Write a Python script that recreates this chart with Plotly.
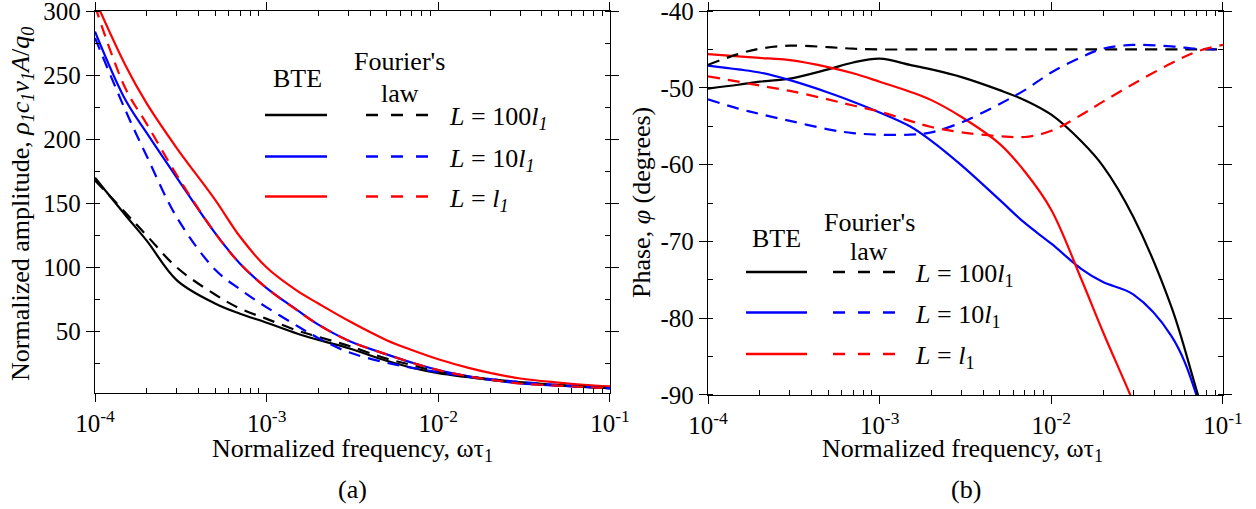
import plotly.graph_objects as go

# ---------------- data ----------------
freq = [1e-4, 1.5e-4, 2e-4, 3e-4, 5e-4, 7e-4, 1e-3, 1.5e-3, 2e-3, 3e-3,
        5e-3, 7e-3, 1e-2, 1.5e-2, 2e-2, 3e-2, 5e-2, 7e-2, 1e-1]

# (a) normalized amplitude
amp_bte_100 = [170, 141, 121, 90, 72, 64, 57, 48.6, 43.6, 37.1, 27.3, 21.9, 17.6, 14.5, 12.5, 10.3, 8.2, 7.0, 6.0]
amp_fou_100 = [168, 143, 125, 100, 79, 68, 60, 51, 46, 39, 29, 24, 18.5, 15, 13, 10.6, 8.4, 7.1, 6.0]
amp_bte_10 = [284, 231, 205, 170, 127, 103, 84, 67, 55.5, 43, 32.3, 25.9, 20, 15.2, 12.6, 9.6, 7.9, 6.9, 6.0]
amp_fou_10 = [279, 223, 187, 139, 98.5, 83, 69, 54.6, 45, 34, 25.8, 21.9, 18.5, 15, 13, 10.8, 8.4, 7.0, 5.8]
amp_bte_1 = [309, 258, 228, 193, 153, 124, 100, 82, 72, 58.5, 43.4, 35.7, 28.5, 21.8, 17.9, 13.5, 10.3, 8.6, 7.3]
amp_fou_1 = [304, 240, 212, 172, 127, 103, 84, 66.8, 55.5, 43, 32.3, 25.9, 20, 15.2, 12.6, 9.6, 7.9, 6.9, 6.0]

# (b) phase (degrees)
ph_bte_100 = [-50.1, -49.6, -49.2, -48.8, -47.6, -46.7, -46.2, -47.0, -47.6, -48.6, -50.3, -51.6, -53.5, -57.0, -60.2, -66.8, -78.5, -89.3, -101]
ph_fou_100 = [-47.0, -45.6, -44.9, -44.5, -44.7, -44.9, -45, -45, -45, -45, -45, -45, -45, -45, -45, -45, -45, -45, -45]
ph_bte_10 = [-47.1, -47.6, -48.0, -49.0, -50.6, -51.8, -53.2, -55.0, -56.9, -60.1, -64.6, -67.6, -70.3, -73.6, -75.3, -76.9, -82.3, -90, -105]
ph_fou_10 = [-51.5, -52.7, -53.4, -54.3, -55.4, -55.9, -56.1, -56.1, -55.8, -54.5, -52.1, -50.3, -48.0, -46.0, -44.9, -44.4, -44.6, -44.9, -45.0]
ph_bte_1 = [-45.6, -45.9, -46.1, -46.4, -47.3, -48.1, -49.2, -50.5, -51.6, -53.8, -57.3, -60.9, -65.9, -75.0, -81.8, -90.9, -103, -110, -118]
ph_fou_1 = [-48.5, -49.2, -49.7, -50.4, -51.5, -52.3, -53.1, -54.3, -55.1, -55.8, -56.3, -56.4, -55.6, -53.5, -51.8, -49.5, -46.8, -45.3, -44.4]

x_tickvals = [1e-4, 1e-3, 1e-2, 1e-1]
x_ticktext = ["10<sup>-4</sup>", "10<sup>-3</sup>", "10<sup>-2</sup>", "10<sup>-1</sup>"]
amp_tickvals = [50, 100, 150, 200, 250, 300]
ph_tickvals = [-40, -50, -60, -70, -80, -90]
ph_ticktext = ["-40", "-50", "-60", "-70", "-80", "-90"]

legend_labels_a = ["<i>L</i> = 100<i>l<sub>1</sub></i>", "<i>L</i> = 10<i>l<sub>1</sub></i>", "<i>L</i> = <i>l<sub>1</sub></i>"]
legend_labels_b = ["<i>L</i> = 100<i>l</i><sub>1</sub>", "<i>L</i> = 10<i>l</i><sub>1</sub>", "<i>L</i> = <i>l</i><sub>1</sub>"]
colors = ["#000000", "#0000ff", "#ff0000"]

# ---------------- figure ----------------
W, H = 1256, 509
FONT = "Liberation Serif, Times New Roman, serif"
DASH = "12px,8px"


def fx(p):
    return p / W


def fy(p):
    return 1 - p / H


fig = go.Figure()

amp_sets = [(amp_bte_100, amp_fou_100), (amp_bte_10, amp_fou_10), (amp_bte_1, amp_fou_1)]
ph_sets = [(ph_bte_100, ph_fou_100), (ph_bte_10, ph_fou_10), (ph_bte_1, ph_fou_1)]
LINE = dict(width=2.2, shape="spline", smoothing=1.0)

for (bte, fou), c in zip(amp_sets, colors):
    fig.add_trace(go.Scatter(x=freq, y=bte, mode="lines", xaxis="x", yaxis="y",
                             line=dict(color=c, **LINE), showlegend=False))
for (bte, fou), c in zip(amp_sets, colors):
    fig.add_trace(go.Scatter(x=freq, y=fou, mode="lines", xaxis="x", yaxis="y",
                             line=dict(color=c, dash=DASH, **LINE), showlegend=False))
for (bte, fou), c in zip(ph_sets, colors):
    fig.add_trace(go.Scatter(x=freq, y=bte, mode="lines", xaxis="x2", yaxis="y2",
                             line=dict(color=c, **LINE), showlegend=False))
for (bte, fou), c in zip(ph_sets, colors):
    fig.add_trace(go.Scatter(x=freq, y=fou, mode="lines", xaxis="x2", yaxis="y2",
                             line=dict(color=c, dash=DASH, **LINE), showlegend=False))

minor_x = [m * 10 ** e for e in (-4, -3, -2) for m in range(2, 10)]

common_axis = dict(showline=True, linecolor="black", linewidth=1.3, mirror="ticks",
                   ticks="outside", ticklen=8, tickwidth=1.3, tickcolor="black",
                   showgrid=False, zeroline=False, automargin=False,
                   ticklabeloverflow="allow",
                   tickfont=dict(family=FONT, size=25, color="black"))

fig.update_layout(
    width=W, height=H,
    margin=dict(l=0, r=0, t=0, b=0),
    paper_bgcolor="white", plot_bgcolor="white",
    font=dict(family=FONT, size=25, color="black"),
    xaxis=dict(domain=[fx(95), fx(610)], type="log", range=[-4.0001, -0.9999], anchor="y",
               tickmode="array", tickvals=x_tickvals, ticktext=x_ticktext,
               minor=dict(tickvals=minor_x, ticks="inside", ticklen=5, tickwidth=1.2, tickcolor="black"),
               **common_axis),
    yaxis=dict(domain=[fy(393), fy(11)], range=[2.2, 300.05], anchor="x",
               tickmode="array", tickvals=amp_tickvals,
               minor=dict(dtick=25, tick0=0, ticks="inside", ticklen=5, tickwidth=1.2, tickcolor="black"),
               **common_axis),
    xaxis2=dict(domain=[fx(708), fx(1223)], type="log", range=[-4.0001, -0.9999], anchor="y2",
                tickmode="array", tickvals=x_tickvals, ticktext=x_ticktext,
                minor=dict(tickvals=minor_x, ticks="inside", ticklen=5, tickwidth=1.2, tickcolor="black"),
                **common_axis),
    yaxis2=dict(domain=[fy(395), fy(11)], range=[-90.01, -39.99], anchor="x2",
                tickmode="array", tickvals=ph_tickvals, ticktext=ph_ticktext,
                minor=dict(dtick=5, tick0=0, ticks="inside", ticklen=5, tickwidth=1.2, tickcolor="black"),
                **common_axis),
)

ann = []


def text(x, y, s, size=26, angle=0, xanchor="center"):
    ann.append(dict(x=fx(x), y=fy(y), xref="paper", yref="paper", text=s, showarrow=False,
                    xanchor=xanchor, yanchor="middle", textangle=angle,
                    font=dict(family=FONT, size=size, color="black")))


# axis titles and panel labels
text(352, 450, "Normalized frequency, ωτ<sub>1</sub>")
text(962, 450, "Normalized frequency, ωτ<sub>1</sub>")
text(22, 204, "Normalized amplitude, <i>ρ<sub>1</sub>c<sub>1</sub>v<sub>1</sub>A</i>/<i>q<sub>0</sub></i>", angle=-90)
text(641, 203, "Phase, <i>φ</i> (degrees)", angle=-90)
text(352, 489, "(a)")
text(966, 489, "(b)")

# legend (a)
text(297, 78, "BTE")
text(399, 62, "Fourier's")
text(400, 93, "law")
rows_a = [115, 156.5, 196.5]
for lab, r in zip(legend_labels_a, rows_a):
    text(447, r + 3, lab, xanchor="left")
# legend (b)
text(776, 238, "BTE")
text(869, 222, "Fourier's")
text(869, 252, "law")
rows_b = [272, 312.5, 354]
for lab, r in zip(legend_labels_b, rows_b):
    text(913, r + 3, lab, xanchor="left")

fig.update_layout(annotations=ann)

shapes = []
for c, r in zip(colors, rows_a):
    shapes.append(dict(type="line", xref="paper", yref="paper", x0=fx(265), x1=fx(327), y0=fy(r), y1=fy(r),
                       line=dict(color=c, width=2.6)))
    shapes.append(dict(type="line", xref="paper", yref="paper", x0=fx(366), x1=fx(428), y0=fy(r), y1=fy(r),
                       line=dict(color=c, width=2.6, dash="12px,13px")))
for c, r in zip(colors, rows_b):
    shapes.append(dict(type="line", xref="paper", yref="paper", x0=fx(746), x1=fx(807), y0=fy(r), y1=fy(r),
                       line=dict(color=c, width=2.6)))
    shapes.append(dict(type="line", xref="paper", yref="paper", x0=fx(833), x1=fx(895), y0=fy(r), y1=fy(r),
                       line=dict(color=c, width=2.6, dash="12px,13px")))
fig.update_layout(shapes=shapes)

fig.write_html("out.html")
